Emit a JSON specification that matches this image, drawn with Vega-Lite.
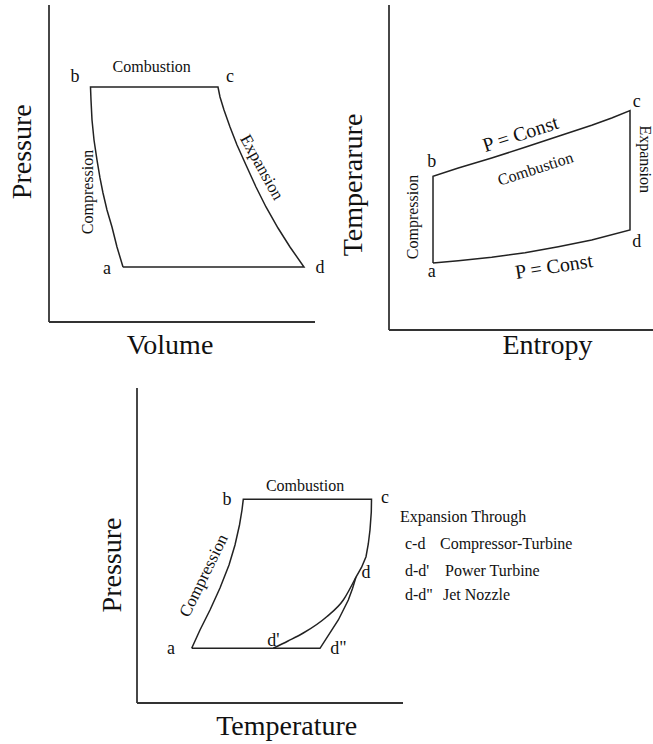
{
  "$schema": "https://vega.github.io/schema/vega-lite/v6.json",
  "padding": 0,
  "background": "white",
  "spacing": 0,
  "config": {
    "view": {"stroke": null},
    "concat": {"spacing": 0},
    "text": {"font": "Liberation Serif", "color": "#111"}
  },
  "vconcat": [
    {
      "spacing": 0,
      "hconcat": [
        {
          "width": 326,
          "height": 362,
          "layer": [
            {
              "data": {"values": [
                {"volume": 0, "pressure": 0, "volume2": 0, "pressure2": 10},
                {"volume": 0, "pressure": 0, "volume2": 10, "pressure2": 0}
              ]},
              "mark": {"type": "rule", "color": "#333", "strokeWidth": 1.8},
              "encoding": {
                "x": {"field": "volume", "type": "quantitative", "scale": {"domain": [-1.8421, 10.4135], "nice": false, "zero": false}, "axis": null},
                "y": {"field": "pressure", "type": "quantitative", "scale": {"domain": [-1.2618, 10.1577], "nice": false, "zero": false}, "axis": null},
                "x2": {"field": "volume2"},
                "y2": {"field": "pressure2"}
              }
            },
            {
              "data": {"values": [
                {"order": 1, "volume": 2.782, "pressure": 1.735},
                {"order": 2, "volume": 2.556, "pressure": 2.366},
                {"order": 3, "volume": 2.368, "pressure": 2.997},
                {"order": 4, "volume": 2.180, "pressure": 3.533},
                {"order": 5, "volume": 2.030, "pressure": 4.069},
                {"order": 6, "volume": 1.917, "pressure": 4.543},
                {"order": 7, "volume": 1.805, "pressure": 5.110},
                {"order": 8, "volume": 1.692, "pressure": 5.741},
                {"order": 9, "volume": 1.617, "pressure": 6.372},
                {"order": 10, "volume": 1.579, "pressure": 7.003},
                {"order": 11, "volume": 1.560, "pressure": 7.413},
                {"order": 12, "volume": 6.353, "pressure": 7.413},
                {"order": 13, "volume": 6.429, "pressure": 7.098},
                {"order": 14, "volume": 6.579, "pressure": 6.688},
                {"order": 15, "volume": 6.805, "pressure": 6.151},
                {"order": 16, "volume": 7.068, "pressure": 5.584},
                {"order": 17, "volume": 7.406, "pressure": 4.953},
                {"order": 18, "volume": 7.782, "pressure": 4.259},
                {"order": 19, "volume": 8.158, "pressure": 3.628},
                {"order": 20, "volume": 8.609, "pressure": 2.965},
                {"order": 21, "volume": 9.060, "pressure": 2.366},
                {"order": 22, "volume": 9.586, "pressure": 1.735},
                {"order": 23, "volume": 2.782, "pressure": 1.735}
              ]},
              "mark": {"type": "line", "color": "#222", "strokeWidth": 1.5},
              "encoding": {
                "x": {"field": "volume", "type": "quantitative", "scale": {"domain": [-1.8421, 10.4135], "nice": false, "zero": false}, "axis": null},
                "y": {"field": "pressure", "type": "quantitative", "scale": {"domain": [-1.2618, 10.1577], "nice": false, "zero": false}, "axis": null},
                "order": {"field": "order", "type": "quantitative"}
              }
            },
            {
              "data": {"values": [
                {"label": "Pressure", "volume": -0.966, "pressure": 5.372, "angle": 270, "size": 28},
                {"label": "Volume", "volume": 4.549, "pressure": -0.748, "angle": 0, "size": 28},
                {"label": "Combustion", "volume": 3.861, "pressure": 8.054, "angle": 0, "size": 16},
                {"label": "Compression", "volume": 1.466, "pressure": 4.101, "angle": 270, "size": 16},
                {"label": "Expansion", "volume": 7.989, "pressure": 4.874, "angle": 61, "size": 17},
                {"label": "b", "volume": 0.977, "pressure": 7.729, "angle": 0, "size": 18},
                {"label": "c", "volume": 6.805, "pressure": 7.729, "angle": 0, "size": 18},
                {"label": "a", "volume": 2.180, "pressure": 1.672, "angle": 0, "size": 18},
                {"label": "d", "volume": 10.188, "pressure": 1.703, "angle": 0, "size": 18}
              ]},
              "mark": {"type": "text", "baseline": "middle", "align": "center", "font": "Liberation Serif", "color": "#111"},
              "encoding": {
                "x": {"field": "volume", "type": "quantitative", "scale": {"domain": [-1.8421, 10.4135], "nice": false, "zero": false}, "axis": null},
                "y": {"field": "pressure", "type": "quantitative", "scale": {"domain": [-1.2618, 10.1577], "nice": false, "zero": false}, "axis": null},
                "text": {"field": "label", "type": "nominal"},
                "angle": {"field": "angle", "type": "quantitative", "scale": null, "legend": null},
                "size": {"field": "size", "type": "quantitative", "scale": null, "legend": null}
              }
            }
          ]
        },
        {
          "width": 327,
          "height": 362,
          "layer": [
            {
              "data": {"values": [
                {"entropy": 0, "temperature": 0, "entropy2": 0, "temperature2": 10},
                {"entropy": 0, "temperature": 0, "entropy2": 10, "temperature2": 0}
              ]},
              "mark": {"type": "rule", "color": "#333", "strokeWidth": 1.8},
              "encoding": {
                "x": {"field": "entropy", "type": "quantitative", "scale": {"domain": [-2.3864, 10.0], "nice": false, "zero": false}, "axis": null},
                "y": {"field": "temperature", "type": "quantitative", "scale": {"domain": [-0.9846, 10.1538], "nice": false, "zero": false}, "axis": null},
                "x2": {"field": "entropy2"},
                "y2": {"field": "temperature2"}
              }
            },
            {
              "data": {"values": [
                {"order": 1, "entropy": 1.667, "temperature": 2.065},
                {"order": 2, "entropy": 1.667, "temperature": 4.729},
                {"order": 3, "entropy": 2.625, "temperature": 4.985},
                {"order": 4, "entropy": 3.890, "temperature": 5.292},
                {"order": 5, "entropy": 5.152, "temperature": 5.622},
                {"order": 6, "entropy": 6.413, "temperature": 5.960},
                {"order": 7, "entropy": 7.678, "temperature": 6.298},
                {"order": 8, "entropy": 8.436, "temperature": 6.523},
                {"order": 9, "entropy": 9.129, "temperature": 6.754},
                {"order": 10, "entropy": 9.129, "temperature": 3.077},
                {"order": 11, "entropy": 7.678, "temperature": 2.769},
                {"order": 12, "entropy": 6.413, "temperature": 2.563},
                {"order": 13, "entropy": 5.152, "temperature": 2.378},
                {"order": 14, "entropy": 3.890, "temperature": 2.237},
                {"order": 15, "entropy": 2.625, "temperature": 2.132},
                {"order": 16, "entropy": 1.667, "temperature": 2.065}
              ]},
              "mark": {"type": "line", "color": "#222", "strokeWidth": 1.5},
              "encoding": {
                "x": {"field": "entropy", "type": "quantitative", "scale": {"domain": [-2.3864, 10.0], "nice": false, "zero": false}, "axis": null},
                "y": {"field": "temperature", "type": "quantitative", "scale": {"domain": [-0.9846, 10.1538], "nice": false, "zero": false}, "axis": null},
                "order": {"field": "order", "type": "quantitative"}
              }
            },
            {
              "data": {"values": [
                {"label": "Temperarure", "entropy": -1.337, "temperature": 4.462, "angle": 270, "size": 28},
                {"label": "Entropy", "entropy": 6.004, "temperature": -0.483, "angle": 0, "size": 28},
                {"label": "P = Const", "entropy": 4.989, "temperature": 6.015, "angle": -18, "size": 20},
                {"label": "Combustion", "entropy": 5.549, "temperature": 4.954, "angle": -18, "size": 16},
                {"label": "P = Const", "entropy": 6.250, "temperature": 1.938, "angle": -9, "size": 20},
                {"label": "Compression", "entropy": 0.909, "temperature": 3.477, "angle": 270, "size": 16},
                {"label": "Expansion", "entropy": 9.68, "temperature": 5.255, "angle": 90, "size": 16},
                {"label": "a", "entropy": 1.617, "temperature": 1.794, "angle": 0, "size": 18},
                {"label": "b", "entropy": 1.617, "temperature": 5.178, "angle": 0, "size": 18},
                {"label": "c", "entropy": 9.383, "temperature": 7.025, "angle": 0, "size": 18},
                {"label": "d", "entropy": 9.383, "temperature": 2.717, "angle": 0, "size": 18}
              ]},
              "mark": {"type": "text", "baseline": "middle", "align": "center", "font": "Liberation Serif", "color": "#111"},
              "encoding": {
                "x": {"field": "entropy", "type": "quantitative", "scale": {"domain": [-2.3864, 10.0], "nice": false, "zero": false}, "axis": null},
                "y": {"field": "temperature", "type": "quantitative", "scale": {"domain": [-0.9846, 10.1538], "nice": false, "zero": false}, "axis": null},
                "text": {"field": "label", "type": "nominal"},
                "angle": {"field": "angle", "type": "quantitative", "scale": null, "legend": null},
                "size": {"field": "size", "type": "quantitative", "scale": null, "legend": null}
              }
            }
          ]
        }
      ]
    },
    {
      "width": 653,
      "height": 382,
      "layer": [
        {
          "data": {"values": [
            {"temperature": 0, "pressure": 0, "temperature2": 0, "pressure2": 10},
            {"temperature": 0, "pressure": 0, "temperature2": 10, "pressure2": 0}
          ]},
          "mark": {"type": "rule", "color": "#333", "strokeWidth": 1.8},
          "encoding": {
            "x": {"field": "temperature", "type": "quantitative", "scale": {"domain": [-5.1504, 19.3985], "nice": false, "zero": false}, "axis": null},
            "y": {"field": "pressure", "type": "quantitative", "scale": {"domain": [-1.3016, 10.8254], "nice": false, "zero": false}, "axis": null},
            "x2": {"field": "temperature2"},
            "y2": {"field": "pressure2"}
          }
        },
        {
          "data": {"values": [
            {"order": 1, "temperature": 2.056, "pressure": 1.737},
            {"order": 2, "temperature": 2.368, "pressure": 2.317},
            {"order": 3, "temperature": 2.744, "pressure": 2.952},
            {"order": 4, "temperature": 3.120, "pressure": 3.651},
            {"order": 5, "temperature": 3.459, "pressure": 4.381},
            {"order": 6, "temperature": 3.684, "pressure": 5.016},
            {"order": 7, "temperature": 3.853, "pressure": 5.651},
            {"order": 8, "temperature": 3.947, "pressure": 6.127},
            {"order": 9, "temperature": 3.996, "pressure": 6.467},
            {"order": 10, "temperature": 8.816, "pressure": 6.467},
            {"order": 11, "temperature": 8.808, "pressure": 6.063},
            {"order": 12, "temperature": 8.759, "pressure": 5.492},
            {"order": 13, "temperature": 8.695, "pressure": 5.048},
            {"order": 14, "temperature": 8.609, "pressure": 4.644},
            {"order": 15, "temperature": 8.440, "pressure": 4.302},
            {"order": 16, "temperature": 8.233, "pressure": 4.0},
            {"order": 17, "temperature": 8.102, "pressure": 3.635},
            {"order": 18, "temperature": 7.944, "pressure": 3.270},
            {"order": 19, "temperature": 7.568, "pressure": 2.635},
            {"order": 20, "temperature": 6.880, "pressure": 1.737},
            {"order": 21, "temperature": 2.056, "pressure": 1.737}
          ]},
          "mark": {"type": "line", "color": "#222", "strokeWidth": 1.5},
          "encoding": {
            "x": {"field": "temperature", "type": "quantitative", "scale": {"domain": [-5.1504, 19.3985], "nice": false, "zero": false}, "axis": null},
            "y": {"field": "pressure", "type": "quantitative", "scale": {"domain": [-1.3016, 10.8254], "nice": false, "zero": false}, "axis": null},
            "order": {"field": "order", "type": "quantitative"}
          }
        },
        {
          "data": {"values": [
            {"temperature": 5.124, "pressure": 1.737},
            {"temperature": 5.677, "pressure": 1.968},
            {"temperature": 6.252, "pressure": 2.222},
            {"temperature": 7.132, "pressure": 2.740},
            {"temperature": 7.756, "pressure": 3.270},
            {"temperature": 8.233, "pressure": 4.0}
          ]},
          "mark": {"type": "line", "color": "#222", "strokeWidth": 1.5, "interpolate": "monotone"},
          "encoding": {
            "x": {"field": "temperature", "type": "quantitative", "scale": {"domain": [-5.1504, 19.3985], "nice": false, "zero": false}, "axis": null},
            "y": {"field": "pressure", "type": "quantitative", "scale": {"domain": [-1.3016, 10.8254], "nice": false, "zero": false}, "axis": null}
          }
        },
        {
          "data": {"values": [
            {"label": "Pressure", "temperature": -0.902, "pressure": 4.381, "angle": 270, "size": 28},
            {"label": "Temperature", "temperature": 5.628, "pressure": -0.752, "angle": 0, "size": 28},
            {"label": "Combustion", "temperature": 6.316, "pressure": 6.889, "angle": 0, "size": 16},
            {"label": "Compression", "temperature": 2.519, "pressure": 4.041, "angle": -64, "size": 17},
            {"label": "b", "temperature": 3.383, "pressure": 6.444, "angle": 0, "size": 18},
            {"label": "c", "temperature": 9.323, "pressure": 6.508, "angle": 0, "size": 18},
            {"label": "a", "temperature": 1.278, "pressure": 1.714, "angle": 0, "size": 18},
            {"label": "d", "temperature": 8.609, "pressure": 4.127, "angle": 0, "size": 18},
            {"label": "d'", "temperature": 5.124, "pressure": 1.968, "angle": 0, "size": 18},
            {"label": "d\"", "temperature": 7.568, "pressure": 1.714, "angle": 0, "size": 18}
          ]},
          "mark": {"type": "text", "baseline": "middle", "align": "center", "font": "Liberation Serif", "color": "#111"},
          "encoding": {
            "x": {"field": "temperature", "type": "quantitative", "scale": {"domain": [-5.1504, 19.3985], "nice": false, "zero": false}, "axis": null},
            "y": {"field": "pressure", "type": "quantitative", "scale": {"domain": [-1.3016, 10.8254], "nice": false, "zero": false}, "axis": null},
            "text": {"field": "label", "type": "nominal"},
            "angle": {"field": "angle", "type": "quantitative", "scale": null, "legend": null},
            "size": {"field": "size", "type": "quantitative", "scale": null, "legend": null}
          }
        },
        {
          "data": {"values": [
            {"label": "Expansion Through", "temperature": 9.887, "pressure": 5.914},
            {"label": "c-d", "temperature": 10.075, "pressure": 5.063},
            {"label": "Compressor-Turbine", "temperature": 11.391, "pressure": 5.063},
            {"label": "d-d'", "temperature": 10.075, "pressure": 4.2},
            {"label": "Power Turbine", "temperature": 11.579, "pressure": 4.2},
            {"label": "d-d\"", "temperature": 10.075, "pressure": 3.438},
            {"label": "Jet Nozzle", "temperature": 11.504, "pressure": 3.438}
          ]},
          "mark": {"type": "text", "baseline": "middle", "align": "left", "fontSize": 16, "font": "Liberation Serif", "color": "#111"},
          "encoding": {
            "x": {"field": "temperature", "type": "quantitative", "scale": {"domain": [-5.1504, 19.3985], "nice": false, "zero": false}, "axis": null},
            "y": {"field": "pressure", "type": "quantitative", "scale": {"domain": [-1.3016, 10.8254], "nice": false, "zero": false}, "axis": null},
            "text": {"field": "label", "type": "nominal"}
          }
        }
      ]
    }
  ]
}
